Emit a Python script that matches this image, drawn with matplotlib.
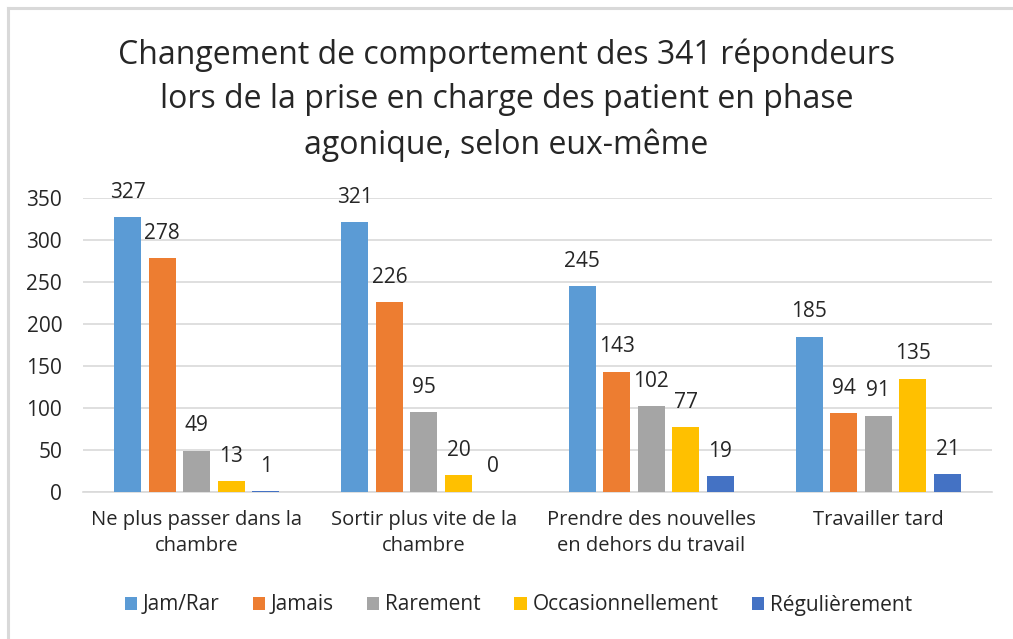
import matplotlib
matplotlib.use("Agg")
import matplotlib.pyplot as plt
import numpy as np
from matplotlib.lines import Line2D
from matplotlib.patches import Patch

categories = ["Ne plus passer dans la\nchambre", "Sortir plus vite de la\nchambre",
              "Prendre des nouvelles\nen dehors du travail", "Travailler tard"]
series_names = ["Jam/Rar", "Jamais", "Rarement", "Occasionnellement", "Régulièrement"]
jam_rar = [327, 321, 245, 185]
jamais = [278, 226, 143, 94]
rarement = [49, 95, 102, 91]
occasionnellement = [13, 20, 77, 135]
regulierement = [1, 0, 19, 21]
series_values = [jam_rar, jamais, rarement, occasionnellement, regulierement]
colors = ["#5B9BD5", "#ED7D31", "#A5A5A5", "#FFC000", "#4472C4"]
title_lines = ["Changement de comportement des 341 répondeurs",
               "lors de la prise en charge des patient en phase",
               "agonique, selon eux-même"]
yticks = [0, 50, 100, 150, 200, 250, 300, 350]

plt.rcParams['font.family'] = ['Open Sans', 'DejaVu Sans']
txt = '#262626'

fig = plt.figure(figsize=(10.13, 6.39), dpi=100)
ax = fig.add_axes([83/1013, 1-492/639, (992-83)/1013, (492-198)/639])

x = np.arange(len(categories))
width = 0.119
step = 0.152
for i, (name, vals, c) in enumerate(zip(series_names, series_values, colors)):
    pos = x + (i - 2) * step
    ax.bar(pos, vals, width=width, color=c, label=name, zorder=3)
    for p, v in zip(pos, vals):
        ax.annotate(str(v), (p, v), xytext=(0, 18), textcoords='offset points',
                    ha='center', va='center', fontsize=15, color=txt)

ax.set_xlim(-0.5, len(categories) - 0.5)
ax.set_ylim(0, 350)
ax.set_yticks(yticks)
ax.set_xticks(x)
ax.set_xticklabels(categories, fontsize=14.5, color=txt, linespacing=1.4)
ax.tick_params(axis='y', length=0, pad=15, labelsize=15, labelcolor=txt)
ax.tick_params(axis='x', length=0, pad=13)
ax.grid(axis='y', color='#D9D9D9', linewidth=1.2, zorder=0)
for s in ['top', 'right', 'left']:
    ax.spines[s].set_visible(False)
ax.spines['bottom'].set_color('#D9D9D9')
ax.spines['bottom'].set_linewidth(1.2)

for line, yy in zip(title_lines, [55, 100, 145]):
    fig.text(0.5, 1 - yy/639, line, ha='center', va='center', fontsize=23, color=txt)

handles = [Patch(facecolor=c, edgecolor='none') for c in colors]
fig.legend(handles, series_names, loc='center', bbox_to_anchor=(0.5117, 1-605/639),
           ncol=5, frameon=False, fontsize=15, handlelength=0.58, handleheight=0.58,
           handletextpad=0.29, columnspacing=1.6, labelcolor=txt)

fig.add_artist(Line2D([8/1013, 1.0], [1-8/639, 1-8/639], color='#D9D9D9', linewidth=2.2, transform=fig.transFigure))
fig.add_artist(Line2D([8/1013, 8/1013], [0, 1-8/639], color='#D9D9D9', linewidth=2.2, transform=fig.transFigure))

fig.savefig("out.png", dpi=100)
